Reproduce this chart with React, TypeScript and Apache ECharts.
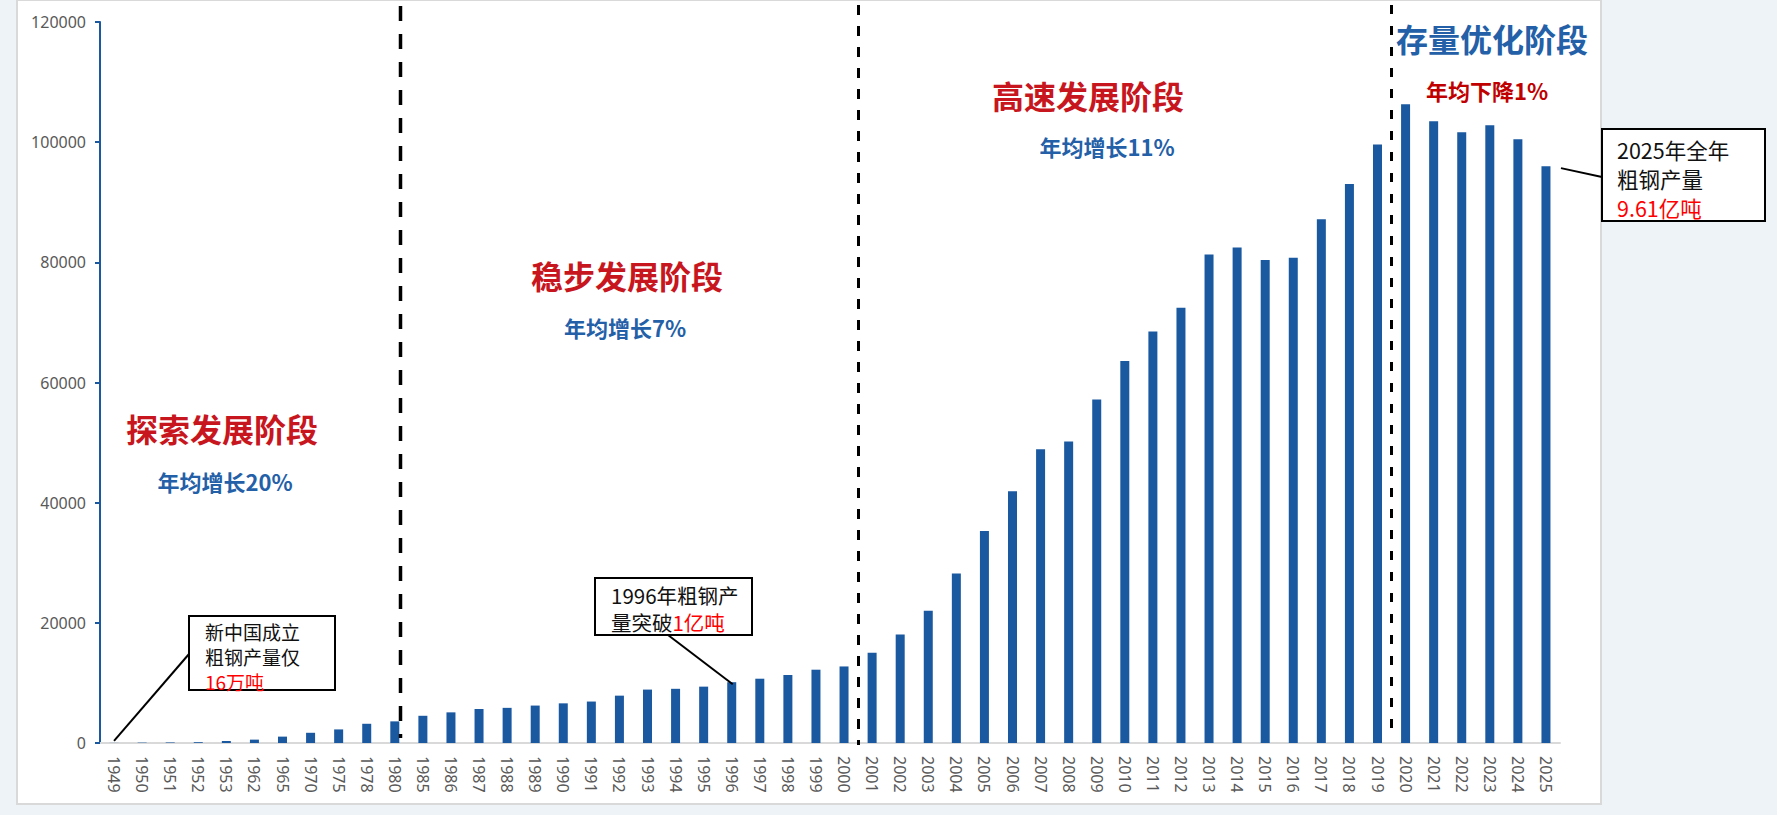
import React, { useEffect, useRef } from 'react';
import * as echarts from 'echarts';

const years = [
  '1949', '1950', '1951', '1952', '1953', '1962', '1965', '1970', '1975', '1978', '1980',
  '1985', '1986', '1987', '1988', '1989', '1990', '1991', '1992', '1993', '1994', '1995',
  '1996', '1997', '1998', '1999', '2000', '2001', '2002', '2003', '2004', '2005', '2006',
  '2007', '2008', '2009', '2010', '2011', '2012', '2013', '2014', '2015', '2016', '2017',
  '2018', '2019', '2020', '2021', '2022', '2023', '2024', '2025',
];

// 粗钢产量（万吨）
const output = [
  16, 61, 90, 135, 330, 560, 1060, 1700, 2260, 3200, 3600,
  4530, 5100, 5660, 5850, 6230, 6600, 6900, 7880, 8890, 9020, 9380,
  10120, 10700, 11320, 12200, 12740, 15030, 18040, 22020, 28200, 35280, 41890,
  48870, 50190, 57170, 63590, 68490, 72450, 81320, 82450, 80380, 80760, 87170,
  93020, 99620, 106320, 103500, 101670, 102830, 100500, 96010,
];

const stageTitles = ['探索发展阶段', '稳步发展阶段', '高速发展阶段', '存量优化阶段'];
const stageRates = ['年均增长20%', '年均增长7%', '年均增长11%', '年均下降1%'];

const RED = '#c8161e';
const BLUE_TEXT = '#2360a8';
const BAR = '#1a58a0';
const CJK = '"Noto Sans CJK SC", "Noto Sans", sans-serif';

export default function App() {
  const ref = useRef<HTMLDivElement>(null);

  useEffect(() => {
    document.body.style.margin = '0';
    const chart = echarts.init(ref.current!, null, { renderer: 'svg' });
    chart.setOption({
      animation: false,
      grid: { left: 100, right: 217, top: 22, bottom: 72, containLabel: false },
      xAxis: {
        type: 'category',
        data: years,
        boundaryGap: true,
        axisLine: { show: true, lineStyle: { color: '#d9d9d9', width: 2 } },
        axisTick: { show: false },
        axisLabel: {
          rotate: -90,
          interval: 0,
          margin: 13,
          color: '#595959',
          fontSize: 16,
          fontFamily: '"Noto Sans", sans-serif',
        },
        splitLine: { show: false },
      },
      yAxis: {
        type: 'value',
        min: 0,
        max: 120000,
        interval: 20000,
        axisLine: { show: true, lineStyle: { color: BAR, width: 2 } },
        axisTick: { show: true, inside: false, length: 5, lineStyle: { color: BAR, width: 2 } },
        axisLabel: {
          margin: 14,
          color: '#595959',
          fontSize: 16,
          fontFamily: '"Noto Sans", sans-serif',
          formatter: (v: number) => String(v),
        },
        splitLine: { show: false },
      },
      series: [
        {
          type: 'bar',
          data: output,
          barWidth: 9,
          itemStyle: { color: BAR },
        },
      ],
    });

    const px = (i: number, v: number) =>
      chart.convertToPixel({ gridIndex: 0 }, [i, v]) as number[];
    const i1996 = years.indexOf('1996');
    const last = years.length - 1;
    const p1949 = px(0, output[0]);
    const p1996 = px(i1996, output[i1996]);
    const p2025 = px(last, output[last]);

    const titlePos = [
      [222, 428, RED],
      [627, 275, RED],
      [1088, 95, RED],
      [1492, 38, BLUE_TEXT],
    ];
    const ratePos = [
      [225, 481, BLUE_TEXT],
      [625, 327, BLUE_TEXT],
      [1107, 146, BLUE_TEXT],
      [1487, 90, '#c00000'],
    ];

    const graphic: any[] = [];
    stageTitles.forEach((t, k) => {
      graphic.push({
        type: 'text',
        z: 100,
        style: {
          text: t,
          x: titlePos[k][0],
          y: titlePos[k][1],
          fill: titlePos[k][2],
          fontSize: 32,
          fontWeight: 'bold',
          fontFamily: CJK,
          align: 'center',
          verticalAlign: 'middle',
        },
      });
    });
    stageRates.forEach((t, k) => {
      graphic.push({
        type: 'text',
        z: 100,
        style: {
          text: t,
          x: ratePos[k][0],
          y: ratePos[k][1],
          fill: ratePos[k][2],
          fontSize: 22,
          fontWeight: 'bold',
          fontFamily: CJK,
          align: 'center',
          verticalAlign: 'middle',
        },
      });
    });

    // dashed stage separators
    const dashes = [
      { x: 400.5, y1: 6, y2: 738, w: 3.5, d: [15, 13] },
      { x: 858.5, y1: 5, y2: 745, w: 3, d: [10, 11] },
      { x: 1391.5, y1: 5, y2: 740, w: 3, d: [9, 12] },
    ];
    dashes.forEach((s) => {
      graphic.push({
        type: 'line',
        z: 90,
        shape: { x1: s.x, y1: s.y1, x2: s.x, y2: s.y2 },
        style: { stroke: '#000', lineWidth: s.w, lineDash: s.d },
      });
    });

    const box = (x: number, y: number, w: number, h: number) => ({
      type: 'rect',
      z: 100,
      shape: { x, y, width: w, height: h },
      style: { fill: '#fff', stroke: '#000', lineWidth: 2 },
    });
    const leader = (x1: number, y1: number, x2: number, y2: number) => ({
      type: 'line',
      z: 100,
      shape: { x1, y1, x2, y2 },
      style: { stroke: '#000', lineWidth: 2 },
    });
    const line = (text: string, x: number, y: number, size: number, color: string) => ({
      type: 'text',
      z: 101,
      style: {
        text,
        x,
        y,
        fill: color,
        fontSize: size,
        fontFamily: CJK,
        align: 'left',
        verticalAlign: 'middle',
      },
    });
    const mixed = (a: string, r: string, x: number, y: number, size: number) => ({
      type: 'text',
      z: 101,
      style: {
        x,
        y,
        align: 'left',
        verticalAlign: 'middle',
        text: `{a|${a}}{r|${r}}`,
        rich: {
          a: { fontSize: size, fill: '#111', fontFamily: CJK },
          r: { fontSize: size, fill: '#ff0000', fontFamily: CJK },
        },
      },
    });

    // callout 1949
    graphic.push(leader(p1949[0], p1949[1] - 2, 189, 654));
    graphic.push(box(189, 616, 146, 74));
    graphic.push(line('新中国成立', 205, 631, 19, '#111'));
    graphic.push(line('粗钢产量仅', 205, 656, 19, '#111'));
    graphic.push(line('16万吨', 205, 681, 19, '#ff0000'));

    // callout 1996
    graphic.push(leader(668, 635, p1996[0] + 1, p1996[1] + 2));
    graphic.push(box(595, 578, 157, 57));
    graphic.push(line('1996年粗钢产', 611, 595, 20.5, '#111'));
    graphic.push(mixed('量突破', '1亿吨', 611, 622, 20.5));

    // callout 2025
    graphic.push(leader(p2025[0] + 15, p2025[1] + 2, 1602, 177));
    graphic.push(box(1602, 129, 163, 92));
    graphic.push(line('2025年全年', 1617, 149, 21.5, '#111'));
    graphic.push(line('粗钢产量', 1617, 178, 21.5, '#111'));
    graphic.push(line('9.61亿吨', 1617, 207, 21.5, '#ff0000'));

    chart.setOption({ graphic });

    return () => chart.dispose();
  }, []);

  return (
    <div
      style={{
        position: 'relative',
        width: 1777,
        height: 815,
        background: '#eef3f7',
        overflow: 'hidden',
      }}
    >
      <div
        style={{
          position: 'absolute',
          left: 16,
          top: -1,
          width: 1586,
          height: 806,
          background: '#fff',
          border: '2px solid #d9d9d9',
          boxSizing: 'border-box',
        }}
      />
      <div
        ref={ref}
        style={{ position: 'absolute', left: 0, top: 0, width: 1777, height: 815 }}
      />
    </div>
  );
}
